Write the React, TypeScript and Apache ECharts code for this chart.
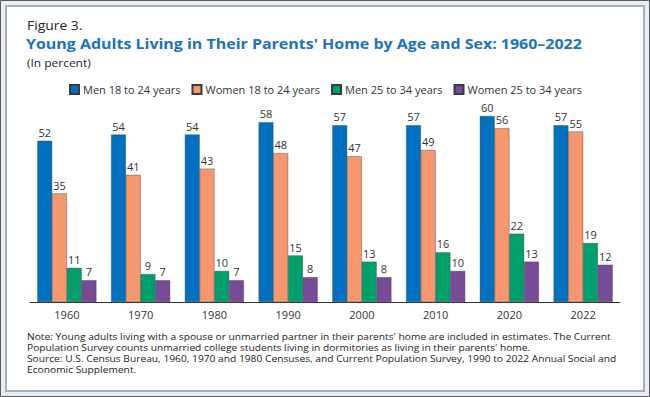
import React, { useEffect, useRef } from "react";
import * as echarts from "echarts";

const years = ["1960", "1970", "1980", "1990", "2000", "2010", "2020", "2022"];
const men18to24 = [52, 54, 54, 58, 57, 57, 60, 57];
const women18to24 = [35, 41, 43, 48, 47, 49, 56, 55];
const men25to34 = [11, 9, 10, 15, 13, 16, 22, 19];
const women25to34 = [7, 7, 7, 8, 8, 10, 13, 12];

const seriesNames = ["Men 18 to 24 years", "Women 18 to 24 years", "Men 25 to 34 years", "Women 25 to 34 years"];
const seriesColors = ["#0070c0", "#f7976f", "#00a06c", "#784a98"];

const footLines = [
  "Note: Young adults living with a spouse or unmarried partner in their parents' home are included in estimates. The Current",
  "Population Survey counts unmarried college students living in dormitories as living in their parents' home.",
  "Source: U.S. Census Bureau, 1960, 1970 and 1980 Censuses, and Current Population Survey, 1990 to 2022 Annual Social and",
  "Economic Supplement.",
];
const footY = [337, 348, 359, 370];

const FONT = "'Open Sans', 'Noto Sans', sans-serif";

export default function App() {
  const ref = useRef<HTMLDivElement>(null);
  useEffect(() => {
    if (!ref.current) return;
    const chart = echarts.init(ref.current, null, { renderer: "svg" });
    const data = [men18to24, women18to24, men25to34, women25to34];
    chart.setOption({
      animation: false,
      backgroundColor: "#ffffff",
      textStyle: { fontFamily: FONT },
      graphic: [
        { type: "rect", shape: { x: 0.5, y: 0.5, width: 649, height: 396 }, style: { fill: "#ececec", stroke: "#5a5a5a", lineWidth: 1 }, z: -10 },
        { type: "rect", shape: { x: 6, y: 6, width: 638, height: 385 }, style: { fill: "#ffffff", stroke: "#9fb0c9", lineWidth: 2 }, z: -9 },
        { type: "text", x: 27, y: 25, scaleX: 1.07, style: { text: "Figure 3.", font: `13px ${FONT}`, fill: "#222222", verticalAlign: "middle" } },
        { type: "text", x: 26, y: 43.5, scaleX: 1.065, style: { text: "Young Adults Living in Their Parents' Home by Age and Sex: 1960–2022", font: `bold 15px ${FONT}`, fill: "#1a73bd", verticalAlign: "middle" } },
        { type: "text", x: 27, y: 61.8, scaleX: 1.04, style: { text: "(In percent)", font: `11.5px ${FONT}`, fill: "#222222", verticalAlign: "middle" } },
        ...footLines.map((t, i) => ({
          type: "text",
          x: 27,
          y: footY[i],
          scaleX: 1.1,
          style: { text: t, font: `9.3px ${FONT}`, lineHeight: 10, fill: "#222222", verticalAlign: "middle" },
        })),
      ],
      legend: {
        top: 79,
        left: 64,
        itemWidth: 9,
        itemHeight: 9,
        itemGap: 11,
        icon: "rect",
        textStyle: { fontSize: 11, color: "#333333", fontFamily: FONT, padding: [0, 0, 0, -1] },
        data: seriesNames,
      },
      grid: { left: 30, right: 30, top: 85, bottom: 95 },
      xAxis: {
        type: "category",
        data: years,
        axisLine: { lineStyle: { color: "#333333", width: 1 } },
        axisTick: { show: false },
        axisLabel: { fontSize: 11, color: "#333333", margin: 7, fontFamily: FONT },
      },
      yAxis: { type: "value", min: 0, max: 70, show: false, splitLine: { show: false } },
      series: seriesNames.map((name, i) => ({
        name,
        type: "bar",
        data: data[i],
        barWidth: "20%",
        barGap: "0%",
        itemStyle: { color: seriesColors[i], borderColor: "#3a3a3a", borderWidth: 0.4 },
        label: { show: true, position: "top", distance: 3, fontSize: 11, color: "#333333", fontFamily: FONT },
      })),
    });
    return () => chart.dispose();
  }, []);
  return <div ref={ref} style={{ position: "fixed", left: 0, top: 0, width: 650, height: 397 }} />;
}
